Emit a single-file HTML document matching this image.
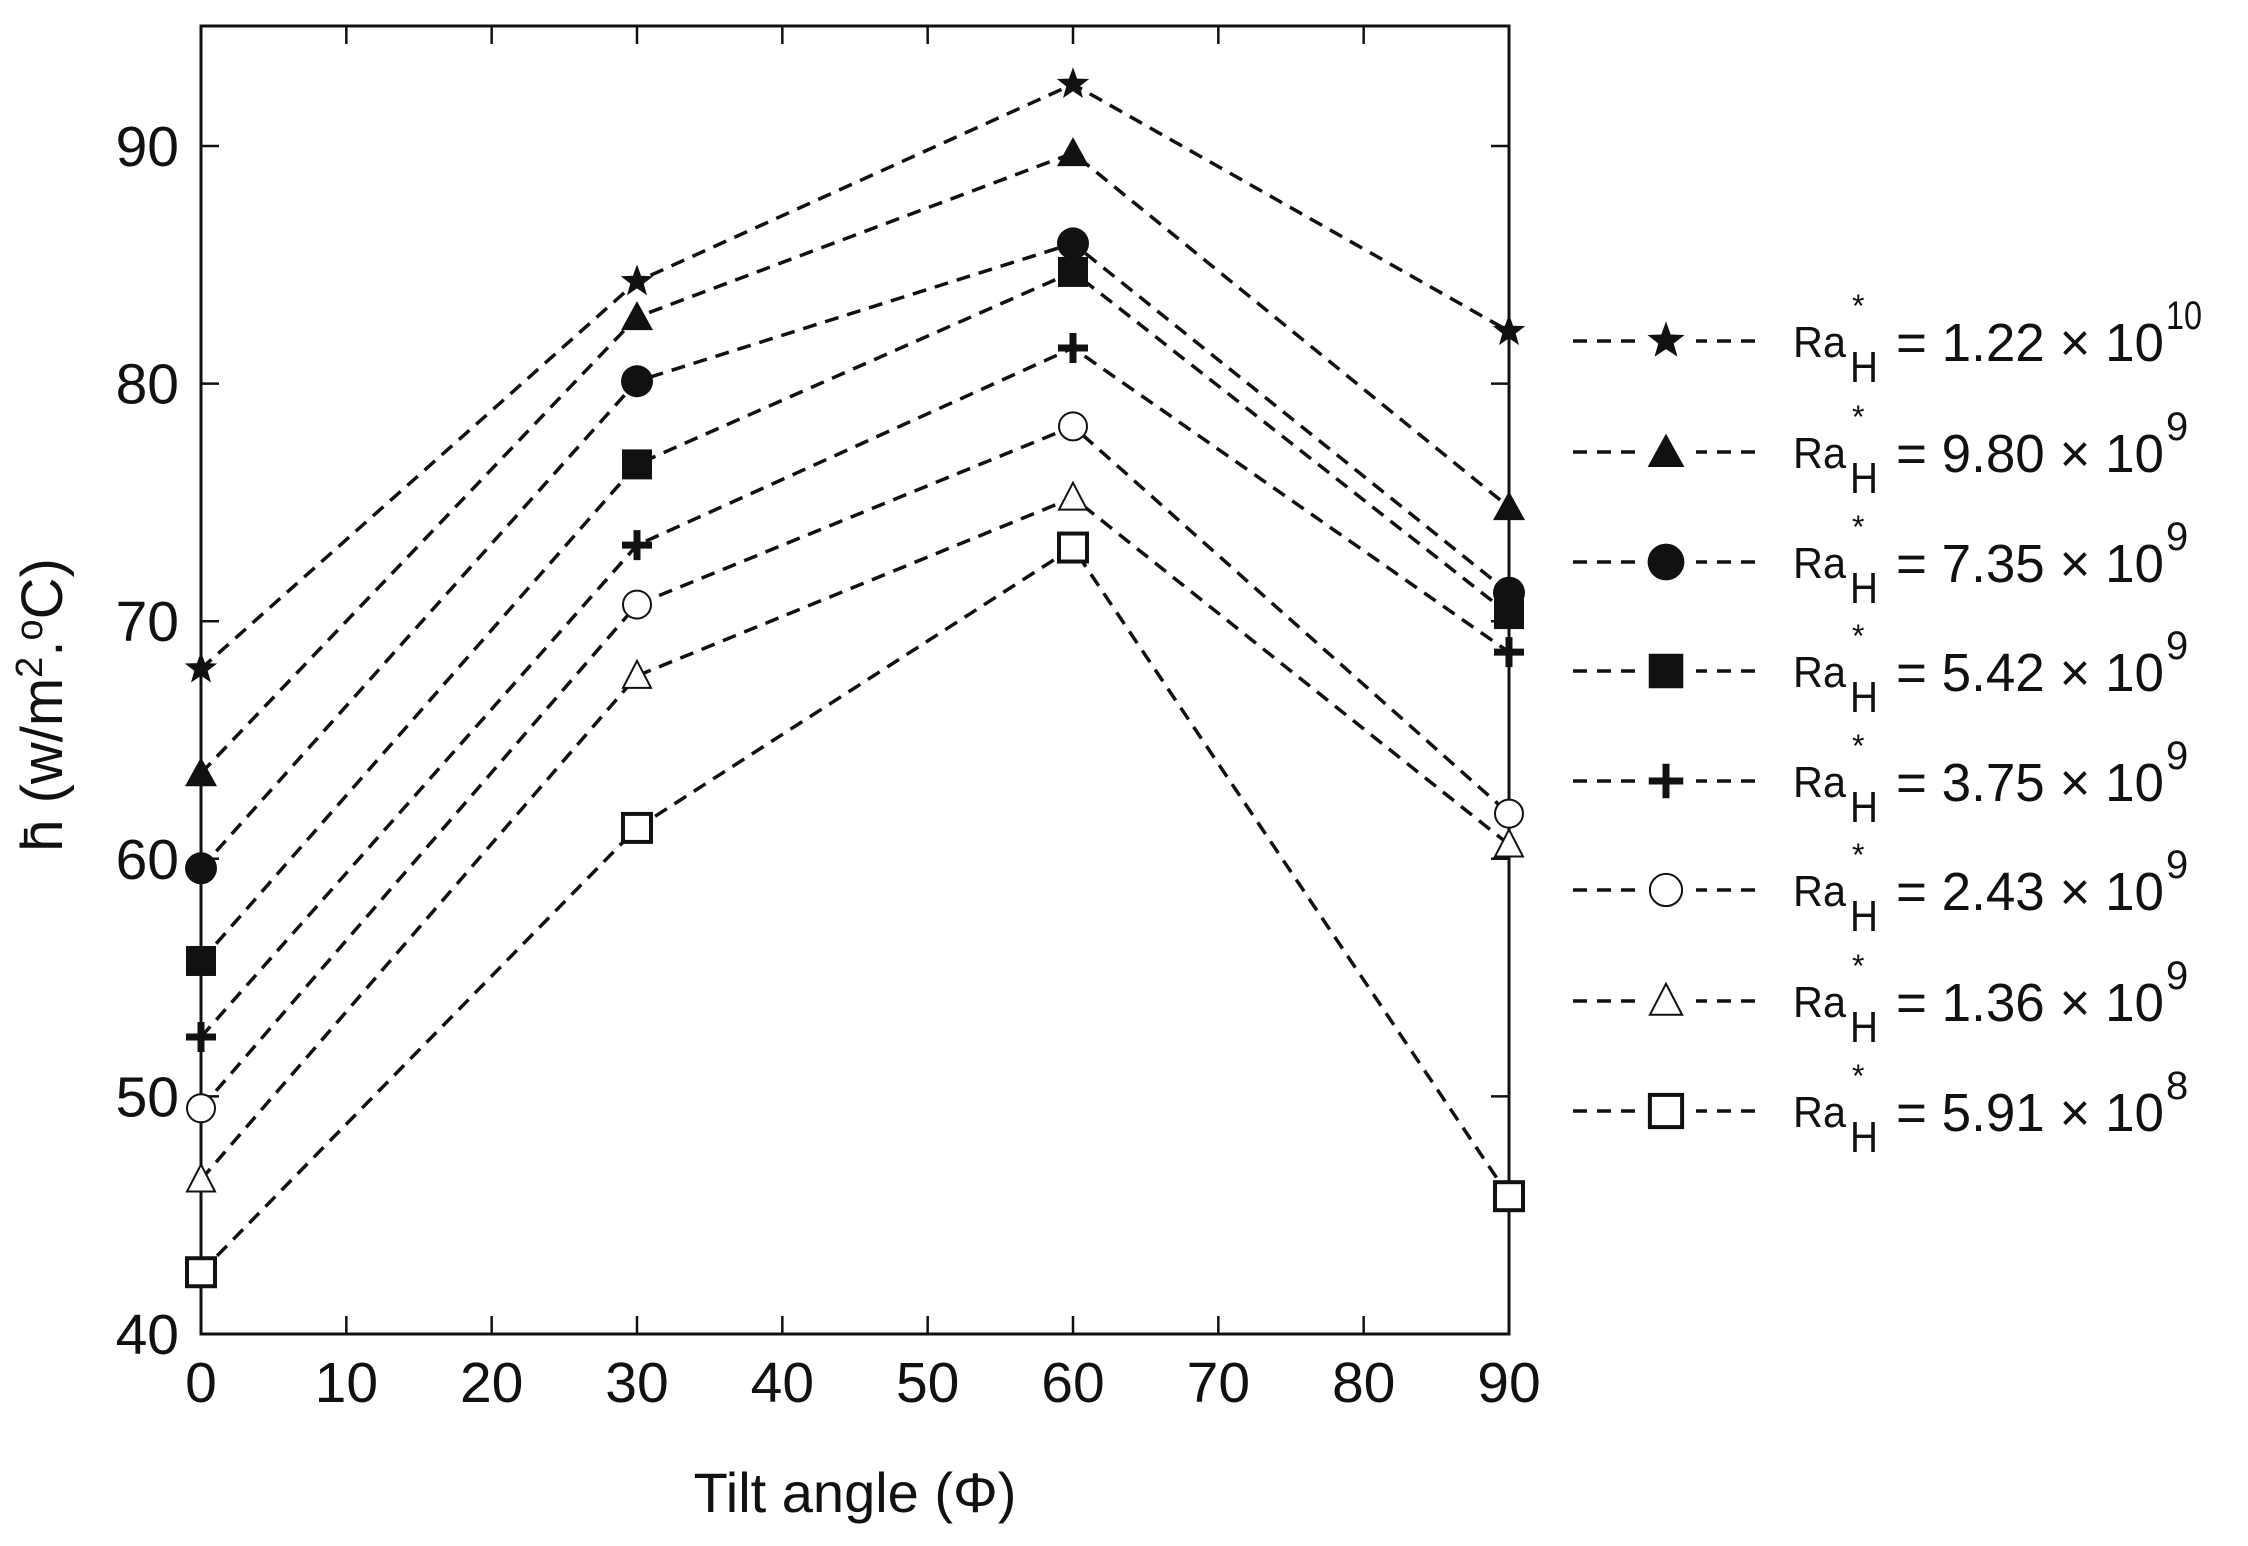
<!DOCTYPE html>
<html><head><meta charset="utf-8"><style>
html,body{margin:0;padding:0;background:#fff}
svg{display:block}
text{font-family:"Liberation Sans",Arial,sans-serif;fill:#111}
</style></head><body>
<svg id="s" width="2248" height="1546" xmlns="http://www.w3.org/2000/svg"></svg>
<script>
const s=document.getElementById('s');
const X0=201,X1=1509,Y40=1334,Y90=146,TOP=26;
const px=v=>X0+(X1-X0)*v/90, py=v=>Y40+(Y90-Y40)*(v-40)/50;
let h='';
h+=`<rect x="${X0}" y="${TOP}" width="${X1-X0}" height="${Y40-TOP}" fill="none" stroke="#111" stroke-width="3"/>`;
for(let v=0;v<=90;v+=10){const x=px(v);
 h+=`<line x1="${x}" y1="${Y40}" x2="${x}" y2="${Y40-18}" stroke="#111" stroke-width="2.5"/><line x1="${x}" y1="${TOP}" x2="${x}" y2="${TOP+18}" stroke="#111" stroke-width="2.5"/>`;
 h+=`<text x="${x}" y="${Y40+68}" font-size="57" text-anchor="middle">${v}</text>`;}
for(let v=40;v<=90;v+=10){const y=py(v);
 h+=`<line x1="${X0}" y1="${y}" x2="${X0+18}" y2="${y}" stroke="#111" stroke-width="2.5"/><line x1="${X1}" y1="${y}" x2="${X1-18}" y2="${y}" stroke="#111" stroke-width="2.5"/>`;
 h+=`<text x="${X0-22}" y="${y+20}" font-size="57" text-anchor="end">${v}</text>`;}
h+=`<text x="${(X0+X1)/2}" y="1512" font-size="56" text-anchor="middle">Tilt angle (Φ)</text>`;
h+=`<text transform="translate(62,705) rotate(-90)" font-size="58" text-anchor="middle">h̄ (w/m<tspan dy="-20" font-size="38">2</tspan><tspan dy="20">.</tspan><tspan dy="-20" font-size="38">o</tspan><tspan dy="20">C)</tspan></text>`;
const D=[[68,84.3,92.6,82.2],[63.6,82.8,89.7,74.8],[59.6,80.1,85.9,71.2],[55.7,76.6,84.7,70.3],[52.5,73.2,81.5,68.7],[49.5,70.7,78.2,61.9],[46.5,67.7,75.2,60.6],[42.6,61.3,73.1,45.8]];
const M=['star','tri','circ','sq','plus','ocirc','otri','osq'];
const L=[['1.22','10'],['9.80','9'],['7.35','9'],['5.42','9'],['3.75','9'],['2.43','9'],['1.36','9'],['5.91','8']];
function mk(t,x,y,k){k=k||1;
 switch(t){
 case 'star':{let p=[];for(let i=0;i<10;i++){const a=-Math.PI/2+i*Math.PI/5,rr=(i%2?7:17)*k;p.push((x+rr*Math.cos(a)).toFixed(1)+','+(y+rr*Math.sin(a)).toFixed(1));}return `<polygon points="${p.join(' ')}" fill="#111"/>`;}
 case 'tri':return `<polygon points="${x},${y-16*k} ${x+16*k},${y+13*k} ${x-16*k},${y+13*k}" fill="#111"/>`;
 case 'circ':return `<circle cx="${x}" cy="${y}" r="${16*k}" fill="#111"/>`;
 case 'sq':return `<rect x="${x-15*k}" y="${y-15*k}" width="${30*k}" height="${30*k}" fill="#111"/>`;
 case 'plus':return `<path d="M${x-15*k} ${y}H${x+15*k}M${x} ${y-15*k}V${y+15*k}" stroke="#111" stroke-width="7"/>`;
 case 'ocirc':return `<circle cx="${x}" cy="${y}" r="${14*k}" fill="#fff" stroke="#111" stroke-width="2"/>`;
 case 'otri':return `<polygon points="${x},${y-15*k} ${x+14*k},${y+12*k} ${x-14*k},${y+12*k}" fill="#fff" stroke="#111" stroke-width="2"/>`;
 case 'osq':return `<rect x="${x-14*k}" y="${y-14*k}" width="${28*k}" height="${28*k}" fill="#fff" stroke="#111" stroke-width="4"/>`;}}
const xs=[0,30,60,90];
D.forEach((d,i)=>{h+=`<polyline points="${d.map((v,j)=>px(xs[j])+','+py(v)).join(' ')}" fill="none" stroke="#111" stroke-width="3.5" stroke-dasharray="14 9"/>`;});
D.forEach((d,i)=>{d.forEach((v,j)=>{h+=mk(M[i],px(xs[j]),py(v));});});
const LY=[341,452,562,671,781,890,1001,1111];
LY.forEach((y,i)=>{
 h+=`<line x1="1573" y1="${y}" x2="1757" y2="${y}" stroke="#111" stroke-width="3.5" stroke-dasharray="14 10"/>`;
 h+=`<rect x="1636" y="${y-22}" width="60" height="44" fill="#fff"/>`;
 h+=mk(M[i],1666,y,1.15);
 h+=`<text x="1793" y="${y+16}" font-size="44" textLength="53" lengthAdjust="spacingAndGlyphs">Ra</text>`;
 h+=`<text x="1852" y="${y-24}" font-size="32">*</text>`;
 h+=`<text x="1850" y="${y+41}" font-size="44" textLength="28" lengthAdjust="spacingAndGlyphs">H</text>`;
 h+=`<text x="1896" y="${y+20}" font-size="54" textLength="268" lengthAdjust="spacingAndGlyphs">= ${L[i][0]} × 10</text>`;
 h+=`<text x="2166" y="${y-12}" font-size="40" ${L[i][1].length>1?'textLength="36" lengthAdjust="spacingAndGlyphs"':''}>${L[i][1]}</text>`;
});
s.innerHTML=h;
</script>
</body></html>
